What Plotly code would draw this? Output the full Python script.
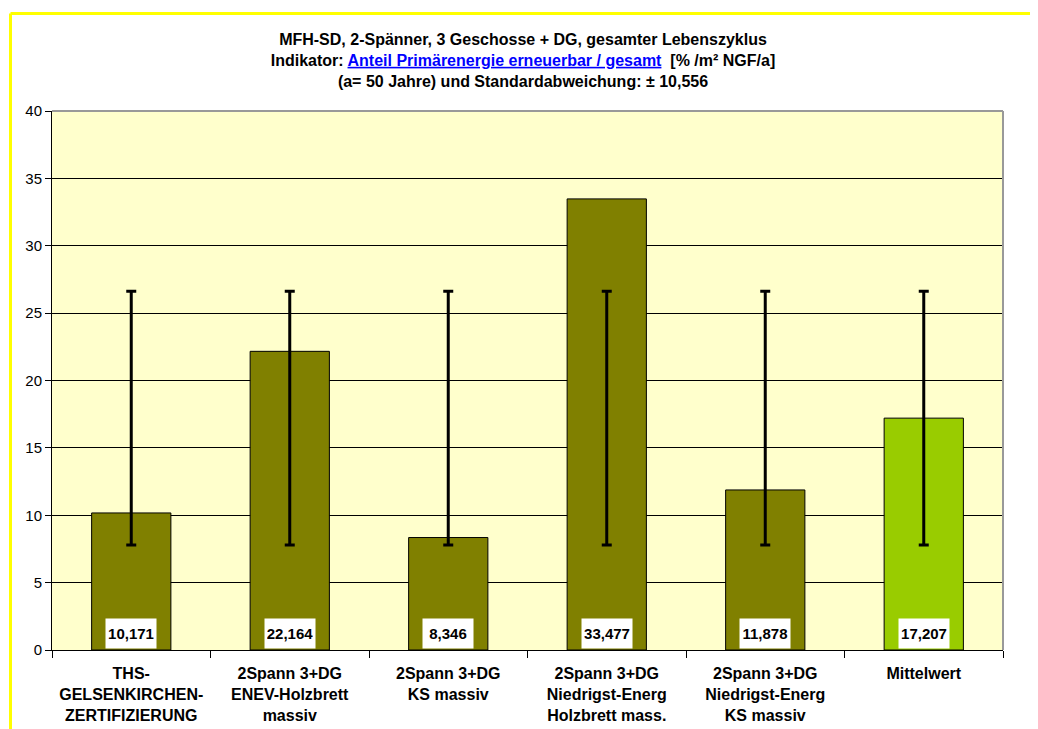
import plotly.graph_objects as go

# --- Data ---
categories = [
    "THS-<br>GELSENKIRCHEN-<br>ZERTIFIZIERUNG",
    "2Spann 3+DG<br>ENEV-Holzbrett<br>massiv",
    "2Spann 3+DG<br>KS massiv",
    "2Spann 3+DG<br>Niedrigst-Energ<br>Holzbrett mass.",
    "2Spann 3+DG<br>Niedrigst-Energ<br>KS massiv",
    "Mittelwert",
]
values = [10.171, 22.164, 8.346, 33.477, 11.878, 17.207]
bar_colors = ["#808000", "#808000", "#808000", "#808000", "#808000", "#99CC00"]
mean_value = 17.207
error_half = 9.41

FONT = "Liberation Sans, Arial, sans-serif"

# the page body adds an 8px offset, so the figure is a bit smaller
W, H = 1030, 721
ML, MR, MT, MB = 44, 35, 103, 79
pw, ph = W - ML - MR, H - MT - MB


def px_x(p):
    return (p - ML) / pw


def px_y(p):
    return (H - MB - p) / ph


fig = go.Figure()

fig.add_trace(go.Bar(
    x=categories, y=values,
    marker=dict(color=bar_colors, line=dict(color="#000000", width=1)),
    showlegend=False,
))

# error bars around the mean, same for every column
fig.add_trace(go.Scatter(
    x=categories, y=[mean_value] * len(categories),
    mode="markers", marker=dict(size=1, color="rgba(0,0,0,0)"),
    error_y=dict(type="constant", value=error_half, color="#000000",
                 thickness=3, width=5),
    showlegend=False, hoverinfo="skip",
))

# value boxes at the bottom of each bar
for cat, v in zip(categories, values):
    fig.add_annotation(
        x=cat, y=0, yanchor="bottom", yshift=1, showarrow=False,
        text="<b>" + f"{v:.3f}".replace(".", ",") + "</b>",
        font=dict(family=FONT, size=15, color="#000000"),
        bgcolor="#FFFFFF", borderpad=2, width=46, height=25,
    )

title_text = (
    "<b>MFH-SD, 2-Spänner, 3 Geschosse + DG, gesamter Lebenszyklus<br>"
    "Indikator: <span style='color:#0000FF'><u>Anteil Primärenergie erneuerbar / gesamt</u></span>"
    "  [% /m² NGF/a]<br>"
    "(a= 50 Jahre) und Standardabweichung: ± 10,556</b>"
)

fig.update_layout(
    width=W, height=H,
    margin=dict(l=ML, r=MR, t=MT, b=MB),
    paper_bgcolor="#FFFFFF",
    plot_bgcolor="#FFFFCC",
    bargap=0.5,
    font=dict(family=FONT, color="#000000"),
    title=dict(text=title_text, x=0.5, xanchor="center", xref="container",
               y=1 - 37 / H, yanchor="top", yref="container",
               font=dict(family=FONT, size=16, color="#000000")),
    xaxis=dict(
        showline=True, linecolor="#000000", linewidth=1,
        ticks="outside", tickson="boundaries", ticklen=7, tickcolor="#000000",
        showgrid=False, ticklabelstandoff=9, automargin=False,
        tickfont=dict(family=FONT, size=16, color="#000000"),
        tickvals=categories,
        ticktext=["<b>" + c.replace("<br>", "</b><br><b>") + "</b>" for c in categories],
    ),
    yaxis=dict(
        range=[0, 40], dtick=5, automargin=False,
        showline=True, linecolor="#000000", linewidth=1,
        ticks="outside", ticklen=6, tickcolor="#000000",
        showgrid=True, gridcolor="#000000", gridwidth=1,
        zeroline=False,
        tickfont=dict(family=FONT, size=15, color="#000000"),
    ),
    shapes=[
        # gray top and right edges of the plot area
        dict(type="line", xref="paper", yref="paper", x0=0, x1=1, y0=1, y1=1,
             line=dict(color="#999999", width=2), layer="above"),
        dict(type="line", xref="paper", yref="paper", x0=1, x1=1, y0=0, y1=1,
             line=dict(color="#999999", width=2), layer="above"),
        # yellow frame of the page
        dict(type="line", xref="paper", yref="paper", x0=px_x(2.5), x1=px_x(W + 5),
             y0=px_y(5.5), y1=px_y(5.5), line=dict(color="#FFFF00", width=3)),
        dict(type="line", xref="paper", yref="paper", x0=px_x(2.5), x1=px_x(2.5),
             y0=px_y(H + 5), y1=px_y(5.5), line=dict(color="#FFFF00", width=3)),
    ],
)

fig.write_html("out.html")
